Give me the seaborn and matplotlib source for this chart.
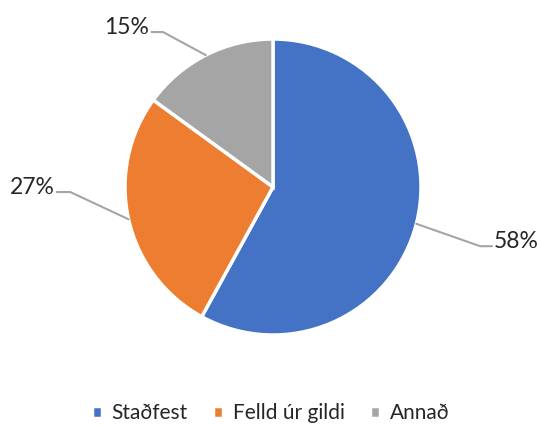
import matplotlib
matplotlib.use("Agg")
import matplotlib.pyplot as plt
import seaborn as sns
import numpy as np

# data
flokkar = ["Staðfest", "Felld úr gildi", "Annað"]
hlutfall = [58, 27, 15]
litir = ["#4472C4", "#ED7D31", "#A5A5A5"]

sns.set_style("white")
plt.rcParams["font.family"] = ["Lato", "DejaVu Sans"]

W, H = 541, 425
fig = plt.figure(figsize=(W / 100, H / 100), dpi=100)
cx, cy, r = 273, 425 - 187, 148
ax = fig.add_axes([(cx - r) / W, (cy - r) / H, 2 * r / W, 2 * r / H])

wedges, _ = ax.pie(hlutfall, colors=litir, startangle=90, counterclock=False,
                   radius=1, wedgeprops=dict(edgecolor="white", linewidth=2.5))
ax.set_xlim(-1, 1)
ax.set_ylim(-1, 1)
ax.set_aspect("equal")
ax.axis("off")

# label positions: (elbow x, elbow y, end x, side)
stadir = [(1.40, -0.40, 1.48, "left"),
          (-1.37, -0.034, -1.46, "right"),
          (-0.743, 1.047, -0.82, "right")]

for w, p, (ex, ey, tx, ha) in zip(wedges, hlutfall, stadir):
    ang = np.deg2rad((w.theta1 + w.theta2) / 2)
    x0, y0 = np.cos(ang), np.sin(ang)
    ax.plot([x0, ex, tx], [y0, ey, ey], color="#A5A5A5", lw=1.5, clip_on=False)
    dx = 0.015 if ha == "left" else -0.015
    ax.text(tx + dx, ey + 0.03, f"{p}%", ha=ha, va="center", fontsize=16.5,
            color="#262626", clip_on=False)

fig.legend(wedges, flokkar, loc="lower center", bbox_to_anchor=(0.5, -0.04),
           ncol=3, frameon=False, fontsize=15, handlelength=0.5, handleheight=0.5,
           handletextpad=0.45, columnspacing=1.2, labelcolor="#262626")

fig.savefig("out.png", dpi=100, facecolor="white")
